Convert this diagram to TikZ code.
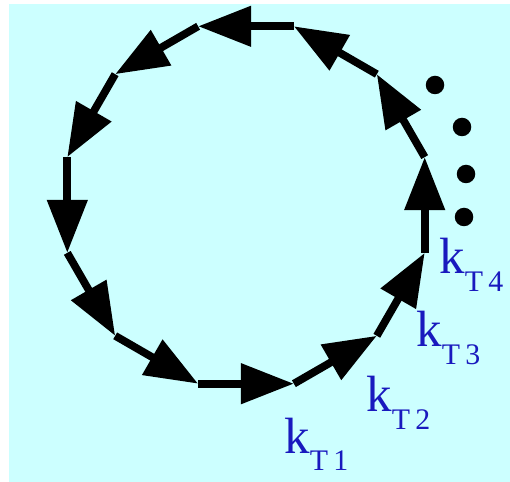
\documentclass[tikz,border=0pt]{standalone}
\usepackage{fontspec}
\setmainfont{Liberation Serif}
\usetikzlibrary{arrows.meta}
\definecolor{pale}{RGB}{204,255,255}
\definecolor{labelblue}{RGB}{25,25,190}
\tikzset{
  >={Triangle[length=10.6mm,width=7.8mm]},
  flow/.style={->,line width=1.55mm,draw=black},
  dot/.style={circle,fill=black,inner sep=0pt,minimum size=3.7mm},
  klabel/.style={anchor=base west,inner sep=0pt,text=labelblue,
    font=\fontsize{29}{29}\selectfont},
}
\newcommand{\ksub}[1]{k\raisebox{-10.2pt}{\fontsize{17}{17}\selectfont T\hspace{3pt}#1}}

\begin{document}
\begin{tikzpicture}[x=0.02cm,y=-0.02cm]
  \useasboundingbox (0,0) rectangle (510,482);
  \fill[pale] (9,4) rectangle (510,482);
  % ring of twelve steps
  \foreach \i in {0,...,11}
    \coordinate (v\i) at ({246+185*cos(15+30*\i)},{205-185*sin(15+30*\i)});
  \foreach \i [evaluate=\i as \j using {int(mod(\i+1,12))}] in {0,...,11}
    \draw[flow] (v\i) -- (v\j);
  % more to come
  \node[dot] (d1) at (435,85) {};
  \node[dot] (d2) at (462,127) {};
  \node[dot] (d3) at (466,174) {};
  \node[dot] (d4) at (464,217) {};
  \node[klabel] (k1) at (284,453) {\ksub{1}};
  \node[klabel] (k2) at (366,412) {\ksub{2}};
  \node[klabel] (k3) at (416,347) {\ksub{3}};
  \node[klabel] (k4) at (439,274) {\ksub{4}};
\end{tikzpicture}
\end{document}
